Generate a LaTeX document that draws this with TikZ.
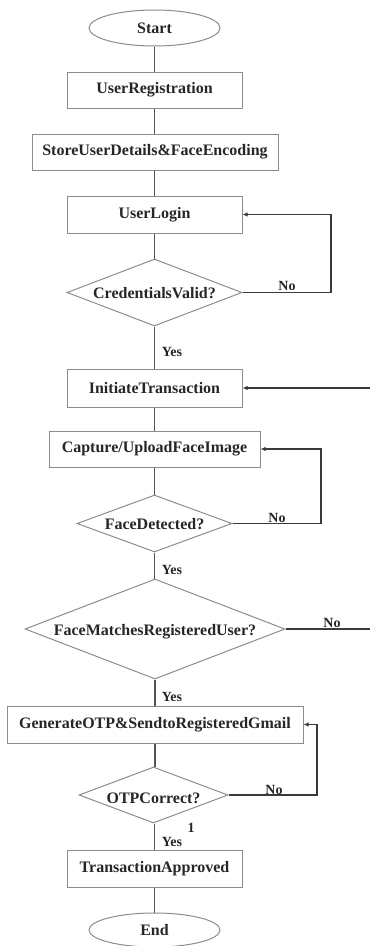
\documentclass[tikz,border=0pt]{standalone}
\usepackage{fontspec}
\setmainfont{Liberation Serif}
\usetikzlibrary{shapes.geometric,arrows.meta}
\definecolor{boxgray}{HTML}{8C8C8C}
\definecolor{linegray}{HTML}{555555}
\definecolor{loopgray}{HTML}{3A3A3A}
\begin{document}
\begin{tikzpicture}[x=1pt,y=-1pt,
  txt/.style={font=\fontsize{16}{19}\selectfont\bfseries, inner sep=0pt, text=black!85},
  box/.style={txt, draw=boxgray, line width=1pt, rectangle},
  term/.style={txt, draw=boxgray, line width=1pt, ellipse},
  dia/.style={draw=boxgray, line width=1pt, diamond, inner sep=0pt},
  conn/.style={draw=linegray, line width=1.4pt},
  loopar/.style={draw=loopgray, line width=1.2pt, -{Latex[length=5pt,width=4.5pt]}},
  loopln/.style={draw=loopgray, line width=1.2pt},
  lbl/.style={font=\fontsize{14}{16}\selectfont\bfseries, inner sep=0pt, text=black!85}]
\useasboundingbox (0,0) rectangle (370,946);
% nodes
\node[term, minimum width=131pt, minimum height=36pt] (start) at (154.5,28) {Start};
\node[box, minimum width=175pt, minimum height=36pt] (reg) at (154.5,90) {UserRegistration};
\node[box, minimum width=246pt, minimum height=36pt] (store) at (155,152) {StoreUserDetails\&FaceEncoding};
\node[box, minimum width=175pt, minimum height=37pt] (login) at (154.5,214.5) {UserLogin};
\node[dia, minimum width=175pt, minimum height=67pt] (cred) at (154.5,292.5) {};
\node[txt] (credt) at (154.5,293) {CredentialsValid?};
\node[box, minimum width=175pt, minimum height=38pt] (init) at (154.5,388) {InitiateTransaction};
\node[box, minimum width=211pt, minimum height=36pt] (capt) at (154.5,449) {Capture/UploadFaceImage};
\node[dia, minimum width=155pt, minimum height=57pt] (fdet) at (154.5,523.5) {};
\node[txt] (fdett) at (154.5,524) {FaceDetected?};
\node[dia, minimum width=260pt, minimum height=100pt] (fmat) at (155,629) {};
\node[txt] (fmatt) at (155,632) {FaceMatchesRegisteredUser?};
\node[box, minimum width=296pt, minimum height=37pt] (gen) at (155,724.5) {GenerateOTP\&SendtoRegisteredGmail};
\node[dia, minimum width=149pt, minimum height=56pt] (otp) at (153.5,795) {};
\node[txt] (otpt) at (153.5,798) {OTPCorrect?};
\node[box, minimum width=175pt, minimum height=37pt] (appr) at (154.5,868.5) {TransactionApproved};
\node[term, minimum width=131pt, minimum height=34pt] (end) at (154.5,930) {End};
% main connectors
\draw[conn] (start.south) -- (start.south |- reg.north);
\draw[conn] (reg.south) -- (reg.south |- store.north);
\draw[conn] (reg.south |- store.south) -- (reg.south |- login.north);
\draw[conn] (login.south) -- (cred.north);
\draw[conn] (cred.south) -- (init.north);
\draw[conn] (init.south) -- (capt.north);
\draw[conn] (capt.south) -- (fdet.north);
\draw[conn] (fdet.south) -- (fdet.south |- fmat.north);
\draw[conn] (fmat.south) -- (fmat.south |- gen.north);
\draw[conn] (otp.north -| fmat.south) -- (fmat.south |- gen.south);
\draw[conn] (otp.south -| init.south) -- (init.south |- appr.north);
\draw[conn] (appr.south) -- (end.north);
% loops
\coordinate (c1) at (331,292.5);
\draw[loopar] (cred.east) -- (c1) |- (login.east);
\coordinate (c2) at (370,388);
\draw[loopar, line width=1.8pt] (c2) -- (init.east);
\coordinate (c3) at (321,523.5);
\draw[loopar] (fdet.east) -- (c3) |- (capt.east);
\coordinate (c4) at (370,629);
\draw[loopln] (fmat.east) -- (c4);
\coordinate (c5) at (317,795);
\draw[loopar] (otp.east) -- (c5) |- (gen.east);
% labels
\node[lbl] (no1) at (287,286) {No};
\node[lbl] (yes1) at (172,352) {Yes};
\node[lbl] (no2) at (277,518) {No};
\node[lbl] (yes2) at (172,570) {Yes};
\node[lbl] (no3) at (332,623) {No};
\node[lbl] (yes3) at (172,697) {Yes};
\node[lbl] (no4) at (274,790) {No};
\node[lbl] (one) at (191,828) {1};
\node[lbl] (yes4) at (172,842) {Yes};
\end{tikzpicture}
\end{document}
